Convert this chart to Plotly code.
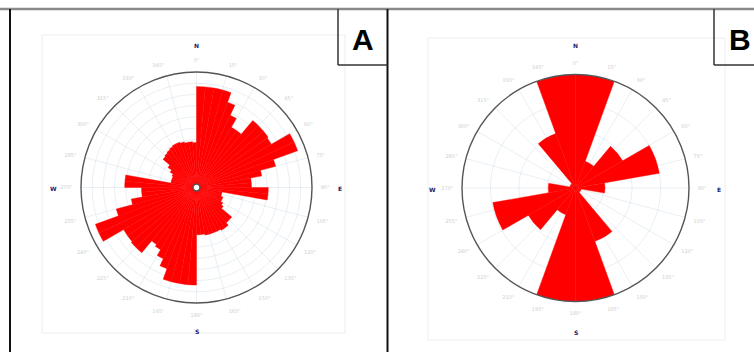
import plotly.graph_objects as go

W, H = 754, 352

# Panel A: 5-degree orientation bins (start angle of each bin) and frequencies
a_bin_width = 5
a_starts = list(range(0, 360, a_bin_width))
a_vals = [87, 87, 87, 87, 78, 68, 59, 59, 75, 75, 75, 74, 93, 93, 70, 56, 46, 46, 61, 61,
          20, 20, 22, 22, 24, 26, 38, 38, 41, 41, 40, 40, 40, 40, 39, 39,
          84, 84, 84, 84, 74, 67, 61, 59, 73, 73, 72, 72, 93, 93, 71, 56, 46, 46, 61, 61,
          20, 20, 20, 21, 24, 28, 36, 37, 38, 39, 40, 40, 39, 38, 38, 37]

# Panel B: 20-degree orientation bins
b_bin_width = 20
b_starts = list(range(0, 360, b_bin_width))
b_vals = [100, 25, 48, 75, 26, 5, 5, 50, 100, 100, 25, 48, 74, 24, 5, 5, 51, 100]

# Angular tick labels every 15 degrees
tick_angles = list(range(0, 360, 15))
tick_text = [f"{a}°" for a in tick_angles]

compass = ["N", "E", "S", "W"]
panel_labels = ["A", "B"]

RED = "#ff0000"
GRID = "rgba(196,212,224,0.38)"


def px(x):
    return x / W


def py(y):
    return 1 - y / H


fig = go.Figure()

fig.add_trace(go.Barpolar(
    r=a_vals,
    theta=[s + a_bin_width / 2 for s in a_starts],
    width=[a_bin_width] * len(a_starts),
    marker=dict(color=RED, line=dict(color=RED, width=0.4)),
    subplot="polar",
    hoverinfo="skip",
))
fig.add_trace(go.Barpolar(
    r=b_vals,
    theta=[s + b_bin_width / 2 for s in b_starts],
    width=[b_bin_width] * len(b_starts),
    marker=dict(color=RED, line=dict(color=RED, width=0.4)),
    subplot="polar2",
    hoverinfo="skip",
))


def polar_layout(cx, cy, rad, dtick, hole):
    return dict(
        domain=dict(x=[px(cx - rad), px(cx + rad)], y=[py(cy + rad), py(cy - rad)]),
        bgcolor="white",
        hole=hole,
        radialaxis=dict(range=[0, 100], dtick=dtick, showticklabels=False, ticks="",
                        showline=False, gridcolor=GRID, gridwidth=1, layer="above traces"),
        angularaxis=dict(rotation=90, direction="clockwise", tickmode="array",
                         tickvals=tick_angles, ticktext=tick_text,
                         ticks="outside", ticklen=7, tickcolor="rgba(0,0,0,0)",
                         tickfont=dict(size=5, color="#cfcfcf", family="DejaVu Sans"),
                         showline=True, linecolor="#555555", linewidth=1.4,
                         gridcolor=GRID, gridwidth=1, layer="above traces"),
    )


A_C = (196.5, 187.5, 115.5)
B_C = (575.5, 188.0, 113.5)

shapes = []
# faint frames around each rose
for x0, y0, x1, y1 in [(42, 35, 345, 333), (428, 38, 725, 340)]:
    shapes.append(dict(type="rect", xref="paper", yref="paper",
                       x0=px(x0), x1=px(x1), y0=py(y1), y1=py(y0),
                       line=dict(color="#eeeeee", width=1)))
# panel borders
shapes.append(dict(type="line", xref="paper", yref="paper", x0=0, x1=1, y0=py(9), y1=py(9),
                   line=dict(color="#8a8a8a", width=2.5)))
for xv in (10, 387.5):
    shapes.append(dict(type="line", xref="paper", yref="paper", x0=px(xv), x1=px(xv),
                       y0=0, y1=py(9), line=dict(color="#111111", width=2)))
# label boxes
for bx0, bx1 in [(338, 387.5), (714, 754)]:
    shapes.append(dict(type="line", xref="paper", yref="paper", x0=px(bx0), x1=px(bx0),
                       y0=py(65), y1=py(9), line=dict(color="#333333", width=1.5)))
    shapes.append(dict(type="line", xref="paper", yref="paper", x0=px(bx0), x1=px(bx1),
                       y0=py(65), y1=py(65), line=dict(color="#333333", width=1.5)))

annotations = []
for (cx, cy, rad), lab, lx in [(A_C, "A", 363), (B_C, "B", 740)]:
    annotations.append(dict(x=px(lx), y=py(39), xref="paper", yref="paper",
                            xanchor="center", yanchor="middle",
                            text=f"<b>{lab}</b>", showarrow=False,
                            font=dict(size=30, color="#000000", family="Liberation Sans")))
    off = 143
    for name, (dx, dy) in zip(compass, [(0, -off), (off, 0), (0, off), (-off, 0)]):
        annotations.append(dict(x=px(cx + dx), y=py(cy + dy + 1), xref="paper", yref="paper",
                                xanchor="center", yanchor="middle",
                                text=f"<b>{name}</b>", showarrow=False,
                                font=dict(size=6, color="#1c1c6a", family="DejaVu Sans")))

fig.update_layout(
    width=W, height=H,
    margin=dict(l=0, r=0, t=0, b=0),
    paper_bgcolor="white",
    showlegend=False,
    polar=polar_layout(*A_C, dtick=10, hole=0.03),
    polar2=polar_layout(*B_C, dtick=25, hole=0.0),
    shapes=shapes,
    annotations=annotations,
)

fig.write_html("out.html")
